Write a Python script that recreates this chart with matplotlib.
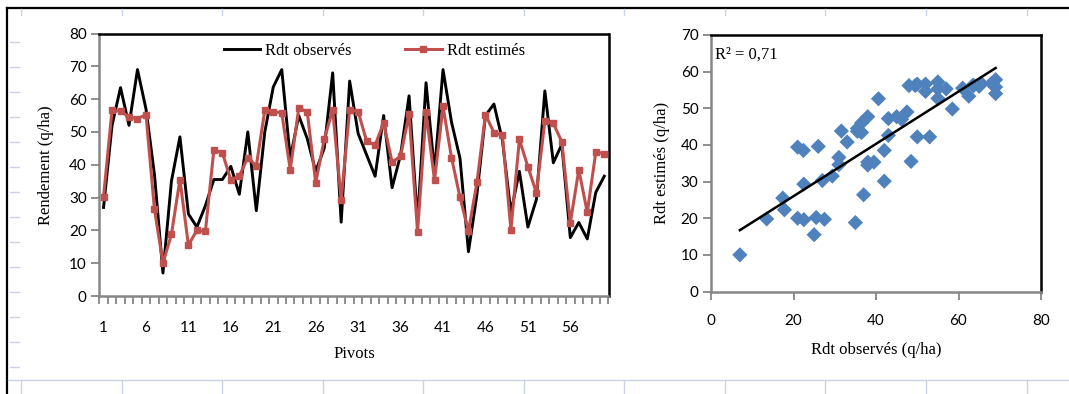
import numpy as np
import matplotlib
matplotlib.use("Agg")
import matplotlib.pyplot as plt
from matplotlib.lines import Line2D

# ---- data ----
pivots = list(range(1, 61))
rdt_observes = [27, 52, 63.5, 52, 69, 57, 37, 7, 35, 48.5,
                25, 21, 27.5, 35.5, 35.5, 39.5, 31, 50, 26, 50,
                63.7, 69, 42, 55, 48, 38, 45, 68, 22.5, 65.5,
                49.5, 43, 36.5, 55, 33, 43, 61, 22.5, 65, 38,
                69, 53, 42, 13.5, 31, 55, 58.5, 47.5, 25.5, 38,
                21, 29.4, 62.5, 40.6, 46.2, 17.8, 22.4, 17.4, 31.6, 36.5]
rdt_estimes = [30.3, 56.6, 56.3, 54.6, 54, 55.3, 26.4, 10, 18.8, 35.5,
               15.5, 20, 19.7, 44.5, 43.7, 35.3, 36.6, 42.2, 39.6, 56.6,
               56.2, 55.8, 38.5, 57.2, 56.2, 34.5, 47.7, 56.8, 29.3, 56.8,
               56.2, 47.2, 46, 52.7, 40.8, 42.6, 55.5, 19.6, 56, 35.3,
               57.8, 42.2, 30.1, 19.8, 34.6, 55.3, 49.8, 49, 20.2, 47.7,
               39.4, 31.5, 53.3, 52.6, 47, 22.3, 38.5, 25.5, 43.8, 43.4]
x_tick_labels = [str(v) for v in range(1, 60, 5)]
r2_text = "R² = 0,71"

W, H = 1069, 394
fig = plt.figure(figsize=(W / 100, H / 100), dpi=100)
fig.patch.set_facecolor("white")

serif = "Liberation Serif"
sans = "Lato"
grey = "#868686"
red = "#C0504D"
blue = "#4F81BD"
cell = "#C9D3E6"

def fx(px):
    return px / W

def fy(py):
    return 1 - py / H

# ---- spreadsheet background marks ----
fig.add_artist(Line2D([fx(7.3), fx(7.3)], [fy(8), fy(394)], color="black", lw=1.6))
fig.add_artist(Line2D([fx(7), fx(1069)], [fy(8), fy(8)], color="black", lw=1.6))
fig.add_artist(Line2D([fx(8), fx(1069)], [fy(380), fy(380)], color=cell, lw=1.0))
for cx in [21, 122, 222, 323, 423, 524, 624, 725, 825, 926, 1027]:
    fig.add_artist(Line2D([fx(cx), fx(cx)], [fy(9), fy(15)], color=cell, lw=1.0))
    fig.add_artist(Line2D([fx(cx), fx(cx)], [fy(380), fy(394)], color=cell, lw=1.0))
for ry in range(42, 380, 25):
    fig.add_artist(Line2D([fx(10), fx(19)], [fy(ry), fy(ry)], color=cell, lw=1.0))

def style_axes(ax):
    for s in ["left", "bottom"]:
        ax.spines[s].set_color(grey)
        ax.spines[s].set_linewidth(1.8)
    for s in ["top", "right"]:
        ax.spines[s].set_color("black")
        ax.spines[s].set_linewidth(1.8)
    ax.tick_params(axis="both", which="both", direction="out", color=grey,
                   width=1.3, labelsize=11, pad=3)
    for lab in ax.get_xticklabels() + ax.get_yticklabels():
        lab.set_fontfamily(sans)

# ---- left: line chart ----
ax1 = fig.add_axes([fx(99.3), fy(296), fx(608.5) - fx(99.3), fy(33.5) - fy(296)])
ax1.plot(pivots, rdt_observes, color="black", lw=2.1, label="Rdt observés", zorder=2)
ax1.plot(pivots, rdt_estimes, color=red, lw=2.2, marker="s", markersize=4.5,
         label="Rdt estimés", zorder=3)
ax1.set_xlim(0.5, 60.5)
ax1.set_ylim(0, 80)
ax1.set_yticks(range(0, 81, 10))
ax1.set_xticks(list(range(1, 60, 5)))
ax1.set_xticklabels(x_tick_labels)
ax1.set_xticks(np.arange(0.5, 61, 1.0), minor=True)
style_axes(ax1)
ax1.tick_params(axis="x", which="major", length=0, pad=18)
ax1.tick_params(axis="x", which="minor", length=6)
ax1.tick_params(axis="y", which="major", length=6)
ax1.set_ylabel("Rendement (q/ha)", fontfamily=serif, fontsize=12, labelpad=11)
ax1.set_xlabel("Pivots", fontfamily=serif, fontsize=12, labelpad=8)
leg = ax1.legend(loc="upper center", bbox_to_anchor=(0.54, 1.02), ncol=2, frameon=False,
                 prop={"family": serif, "size": 12}, handlelength=2.2,
                 columnspacing=3.2, handletextpad=0.3)

# ---- right: scatter ----
ax2 = fig.add_axes([fx(711), fy(291.5), fx(1041) - fx(711), fy(35) - fy(291.5)])
ax2.scatter(rdt_observes, rdt_estimes, marker="D", s=60, color=blue,
            edgecolors="none", zorder=3)
xo = np.array(rdt_observes)
ye = np.array(rdt_estimes)
slope, intercept = np.polyfit(xo, ye, 1)
xl = np.array([xo.min(), xo.max()])
ax2.plot(xl, slope * xl + intercept, color="black", lw=1.8, zorder=4)
ax2.set_xlim(0, 80)
ax2.set_ylim(0, 70)
ax2.set_xticks(range(0, 81, 20))
ax2.set_yticks(range(0, 71, 10))
style_axes(ax2)
ax2.tick_params(axis="both", which="major", length=6)
ax2.tick_params(axis="x", pad=10)
ax2.set_ylabel("Rdt estimés (q/ha)", fontfamily=serif, fontsize=12, labelpad=8)
ax2.set_xlabel("Rdt observés (q/ha)", fontfamily=serif, fontsize=12, labelpad=10)
ax2.text(0.012, 0.955, r2_text, transform=ax2.transAxes, fontfamily=serif,
         fontsize=12, va="top", ha="left")

fig.savefig("out.png", dpi=100)
